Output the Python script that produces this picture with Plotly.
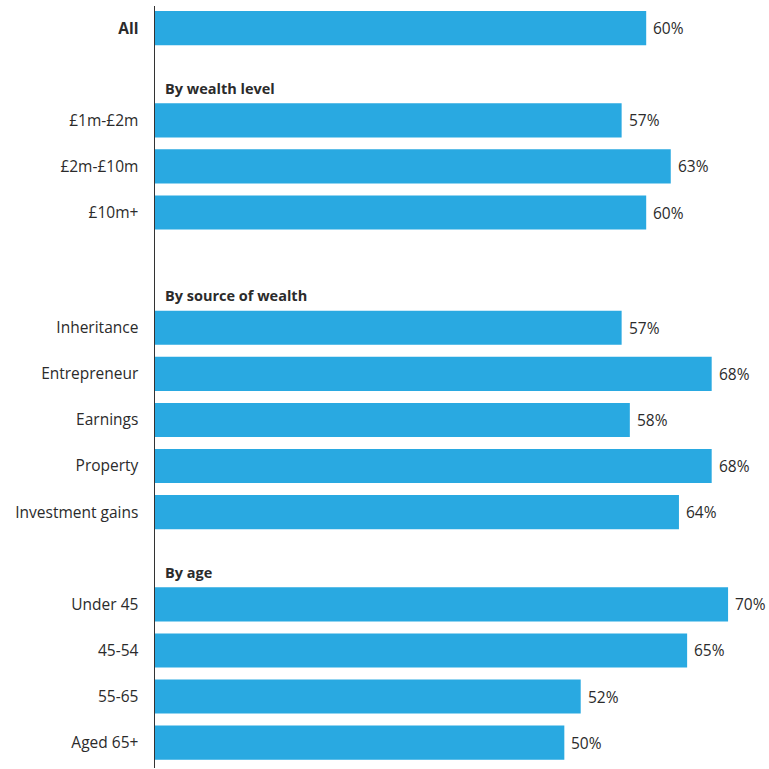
import plotly.graph_objects as go

# Data
categories = ["All", "£1m-£2m", "£2m-£10m", "£10m+",
              "Inheritance", "Entrepreneur", "Earnings", "Property", "Investment gains",
              "Under 45", "45-54", "55-65", "Aged 65+"]
values = [60, 57, 63, 60, 57, 68, 58, 68, 64, 70, 65, 52, 50]
row_pos = [0, 2, 3, 4, 6.5, 7.5, 8.5, 9.5, 10.5, 12.5, 13.5, 14.5, 15.5]
group_titles = ["By wealth level", "By source of wealth", "By age"]
group_title_pos = [1.3, 5.8, 11.8]

FONT = "Open Sans"
TXT = "#2b2b2b"
BAR = "#29a9e1"
FS = 15.5

tick_text = ["<b>All</b>"] + categories[1:]

fig = go.Figure()
fig.add_trace(go.Bar(
    x=values, y=row_pos, orientation="h",
    marker=dict(color=BAR, line=dict(width=0)),
    width=0.74,
    hoverinfo="skip",
))

for v, p in zip(values, row_pos):
    fig.add_annotation(x=v, y=p, xref="x", yref="y", text=f"{v}%",
                       showarrow=False, xanchor="left", yanchor="middle", xshift=5,
                       font=dict(family=FONT, size=FS, color=TXT))

for t, p in zip(group_titles, group_title_pos):
    fig.add_annotation(x=0, y=p, xref="x", yref="y", text=f"<b>{t}</b>",
                       showarrow=False, xanchor="left", yanchor="middle", xshift=8,
                       font=dict(family=FONT, size=14.5, color=TXT))

fig.update_layout(
    width=769, height=769,
    margin=dict(l=155, r=0, t=6, b=1),
    paper_bgcolor="white", plot_bgcolor="white",
    showlegend=False,
    font=dict(family=FONT, size=FS, color=TXT),
    xaxis=dict(range=[0, 75], visible=False, fixedrange=True, automargin=False),
    yaxis=dict(range=[16.05, -0.48], tickvals=row_pos, ticktext=tick_text,
               showgrid=False, zeroline=False, showline=True, linecolor="#333333",
               linewidth=1.5, ticks="", ticklabelstandoff=12, automargin=False,
               fixedrange=True, tickfont=dict(family=FONT, size=FS, color=TXT)),
)

fig.write_html("out.html", config={"displayModeBar": False, "staticPlot": True},
               post_script="document.body.style.margin='0';document.body.style.padding='0';")
